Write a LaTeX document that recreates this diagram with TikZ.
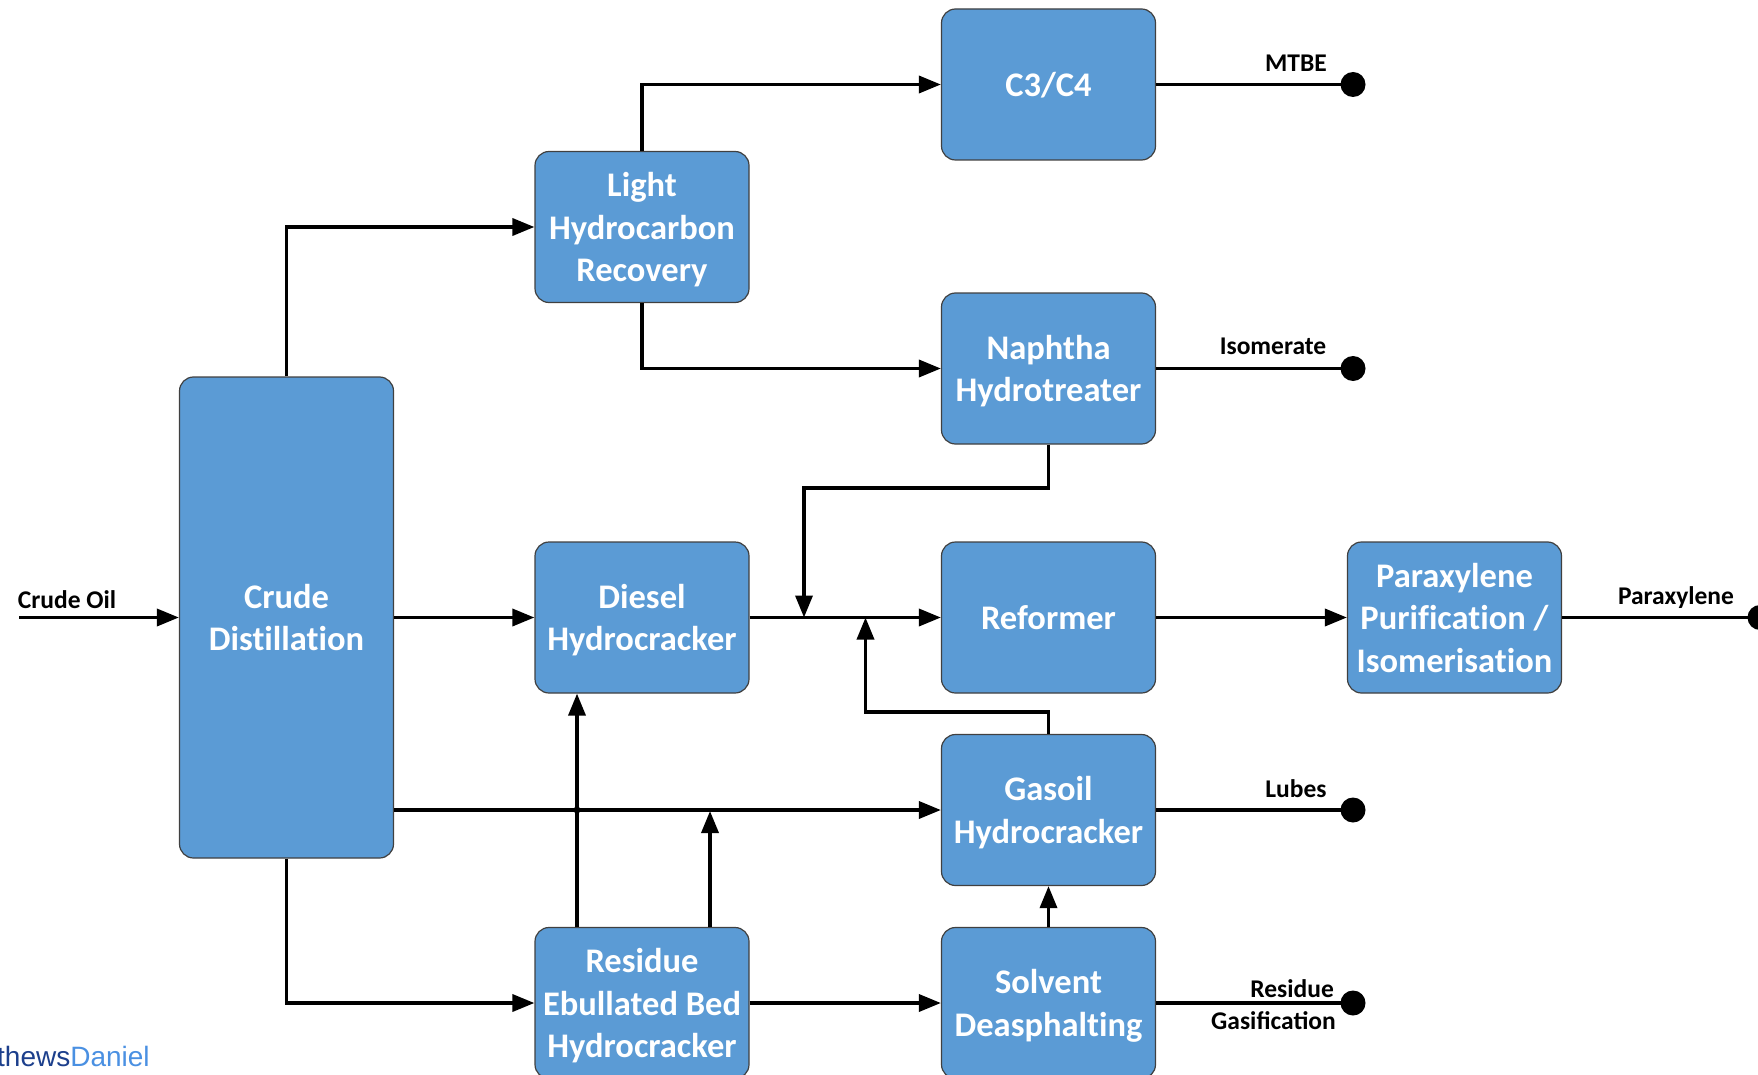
\documentclass[tikz,border=0pt]{standalone}
\usepackage{fontspec}
\usetikzlibrary{arrows.meta}
\setmainfont{Carlito}
\newfontfamily\boxfont[Ligatures={NoCommon}]{Carlito}
\newfontfamily\wmfont{Liberation Sans}
\definecolor{boxblue}{HTML}{5B9BD5}
\definecolor{wmdark}{HTML}{1C3F8C}
\definecolor{wmlight}{HTML}{4A90E2}
\tikzset{
  blk/.style={draw=black!75, line width=1.2pt, fill=boxblue, rounded corners=14pt,
    minimum width=214pt, minimum height=151pt, text=white, align=center, inner sep=0pt,
    text depth=0pt, font=\boxfont\bfseries\fontsize{34.5}{42.6}\selectfont},
  flow/.style={line width=3.5pt, -{Triangle[length=22pt,width=17pt]}},
  plain/.style={line width=3.5pt},
  lbl/.style={font=\bfseries\fontsize{25.5}{28}\selectfont, anchor=base, inner sep=0pt},
  enddot/.style={circle, fill=black, minimum size=25pt, inner sep=0pt},
}
\begin{document}
\begin{tikzpicture}[x=1pt,y=-1pt]
\useasboundingbox (0,0) rectangle (1758,1075);

% process units
\node[blk, minimum height=481pt] (crude) at (286.5,617.5) {Crude\\Distillation};
\node[blk] (lhr)     at (642,227)      {Light\\Hydrocarbon\\Recovery};
\node[blk] (diesel)  at (642,617.5)    {Diesel\\Hydrocracker};
\node[blk] (resid)   at (642,1003)     {Residue\\Ebullated Bed\\Hydrocracker};
\node[blk] (c3c4)    at (1048.5,84.5)  {C3/C4};
\node[blk] (naphtha) at (1048.5,368.5) {Naphtha\\Hydrotreater};
\node[blk] (reform)  at (1048.5,617.5) {Reformer};
\node[blk] (gasoil)  at (1048.5,810)   {Gasoil\\Hydrocracker};
\node[blk] (solvent) at (1048.5,1003)  {Solvent\\Deasphalting};
\node[blk] (px)      at (1454.5,617.5) {Paraxylene\\Purification /\\Isomerisation};

% product terminals
\node[enddot] (dmtbe) at (1353,84.5) {};
\node[enddot] (diso)  at (1353,368.5) {};
\node[enddot] (dlube) at (1353,810) {};
\node[enddot] (dgas)  at (1353,1003) {};
\node[enddot] (dpx)   at (1760,617.5) {};

% feed
\coordinate (feed) at (19,617.5);
\draw[flow] (feed) -- (crude.west);
\node[lbl] (lfeed) at (67,608.5) {Crude Oil};

% crude distillation cuts
\draw[flow] (crude.east) -- (diesel.west);
\draw[flow] (crude.north) |- (lhr.west);
\draw[flow] (crude.east |- gasoil.west) -- (gasoil.west);
\draw[flow] (crude.south) |- (resid.west);

% light ends
\draw[flow] (lhr.north) |- (c3c4.west);
\draw[flow] (lhr.south) |- (naphtha.west);

% naphtha to reformer header
\coordinate (nbend) at (804,488);
\draw[flow] (naphtha.south) |- (nbend) -- (nbend |- reform.west);
\draw[flow] (diesel.east) -- (reform.west);

% gasoil overhead to reformer header
\coordinate (gbend) at (865.5,712);
\draw[flow] (gasoil.north) |- (gbend) -- (gbend |- reform.west);

% residue hydrocracker products
\coordinate (rx1) at (577,927);
\coordinate (rx2) at (710,927);
\draw[flow] (rx1) -- (rx1 |- diesel.south);
\draw[flow] (rx2) -- (710,811);
\node[circle, fill=black, minimum size=7pt, inner sep=0pt] (junc) at (577,810) {};
\draw[flow] (resid.east) -- (solvent.west);
\draw[flow] (solvent.north) -- (gasoil.south);

% aromatics
\draw[flow] (reform.east) -- (px.west);

% products
\draw[plain] (c3c4.east) -- (dmtbe.center);
\draw[plain] (naphtha.east) -- (diso.center);
\draw[plain] (gasoil.east) -- (dlube.center);
\draw[plain] (solvent.east) -- (dgas.center);
\draw[plain] (px.east) -- (dpx.center);

\node[lbl] (lmtbe) at (1296,72) {MTBE};
\node[lbl] (liso)  at (1273,354) {Isomerate};
\node[lbl] (llube) at (1296,797) {Lubes};
\node[lbl] (lpx)   at (1676,604) {Paraxylene};
\node[lbl, anchor=base east] (lres) at (1334,997) {Residue};
\node[lbl, anchor=base east] (lgas) at (1336,1029) {Gasification};

% signature
\node[anchor=base west, inner sep=0pt] (sig) at (-3,1066)
  {\wmfont\fontsize{28}{30}\selectfont\textcolor{wmdark}{thews}\textcolor{wmlight}{Daniel}};
\end{tikzpicture}
\end{document}
